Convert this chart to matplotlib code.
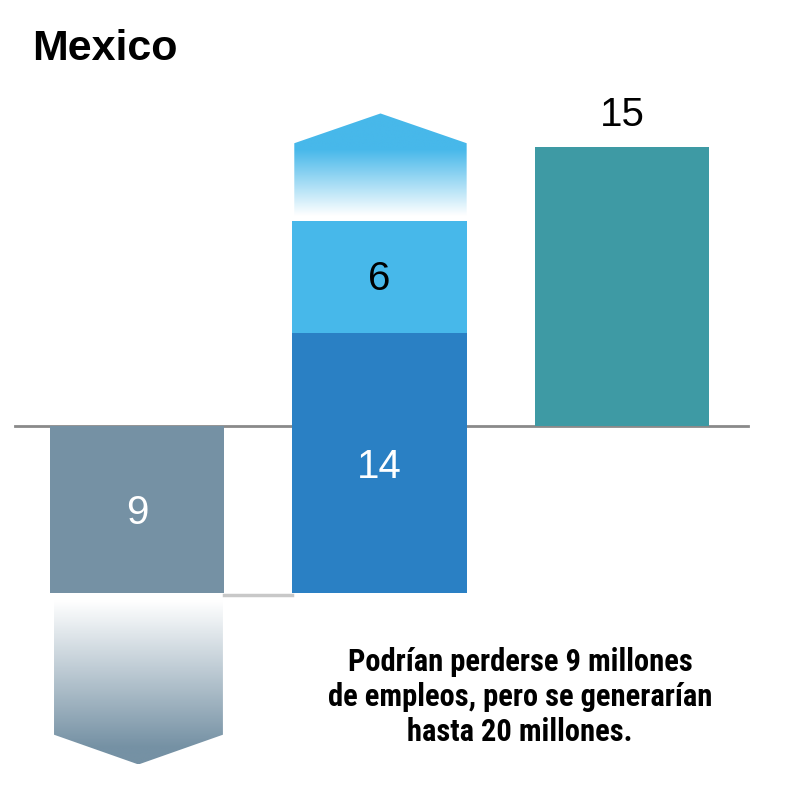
import matplotlib
matplotlib.use("Agg")
import matplotlib.pyplot as plt
import matplotlib.patches as pts
from matplotlib.colors import LinearSegmentedColormap
from matplotlib import font_manager
import numpy as np

# datos (millones de empleos)
categorias = ["perdidos", "generados", "neto"]
perdidos = 9
generados_base = 14
generados_extra = 6
neto = 15
titulo = "Mexico"
nota = "Podrían perderse 9 millones\nde empleos, pero se generarían\nhasta 20 millones."

C_GRIS = "#7591a4"
C_AZUL = "#2a80c4"
C_CELESTE = "#47b8ea"
C_VERDE = "#3e9aa4"

# fuente condensada si existe
nombres = {f.name for f in font_manager.fontManager.ttflist}
cond = "DejaVu Sans"
for n in ["Roboto Condensed", "Liberation Sans Narrow", "Open Sans Condensed", "Noto Sans Condensed"]:
    if n in nombres:
        cond = n
        break
plt.rcParams["font.family"] = ["Liberation Sans", "DejaVu Sans"]

fig = plt.figure(figsize=(8, 7.92), dpi=100)
ax = fig.add_axes([0, 0, 1, 1])
ax.set_xlim(-0.565, 2.734)
ax.set_ylim(-19.68, 22.9)
ax.axis("off")

w = 0.718
x = np.arange(len(categorias))

# linea base y conector
ax.plot([-0.503, 2.52], [0, 0], color="#8a8a8a", lw=2, zorder=1)
ax.plot([x[0] + w / 2, x[1] - w / 2], [-perdidos - 0.1, -perdidos - 0.1], color="#c8c8c8", lw=2.5, zorder=1)

# barras
ax.bar(x[0], -perdidos, width=w, color=C_GRIS, zorder=2)
ax.bar(x[1], generados_base, bottom=-perdidos, width=w, color=C_AZUL, zorder=2)
ax.bar(x[1], generados_extra, bottom=generados_base - perdidos, width=w, color=C_CELESTE, zorder=2)
ax.bar(x[2], neto, width=w, color=C_VERDE, zorder=2)


def flecha(xc, y0, y1, ypunta, color, arriba, ancho):
    # flecha con degradado de blanco a color
    xl, xr = xc - ancho / 2, xc + ancho / 2
    poly = pts.Polygon([(xl, y0), (xr, y0), (xr, y1), (xc, ypunta), (xl, y1)],
                       closed=True, facecolor="none", edgecolor="none")
    ax.add_patch(poly)
    cmap = LinearSegmentedColormap.from_list("g", ["white", color])
    grad = np.linspace(0, 1, 256).reshape(-1, 1)
    if arriba:
        grad = np.clip(grad / 0.65, 0, 1)
        ext = (xl, xr, y0, ypunta)
    else:
        grad = np.clip(grad / 0.9, 0, 1)[::-1]
        ext = (xl, xr, ypunta, y0)
    im = ax.imshow(grad, cmap=cmap, extent=ext, origin="lower", aspect="auto", zorder=2)
    im.set_clip_path(poly)


top = generados_base - perdidos + generados_extra
flecha(x[1] + 0.004, top + 0.3, top + 4.2, top + 5.8, C_CELESTE, True, w * 0.99)
flecha(x[0] + 0.006, -perdidos - 0.4, -perdidos - 7.6, -perdidos - 9.2, C_GRIS, False, w * 0.97)

# etiquetas
ax.text(x[0], -perdidos / 2 - 0.2, str(perdidos), color="white", fontsize=29, ha="center", va="center", zorder=3)
ax.text(x[1], -2.2, str(generados_base), color="white", fontsize=29, ha="center", va="center", zorder=3)
ax.text(x[1], generados_base - perdidos + generados_extra / 2 - 0.1, str(generados_extra), color="black",
        fontsize=29, ha="center", va="center", zorder=3)
ax.text(x[2], neto + 0.7, str(neto), color="black", fontsize=29, ha="center", va="bottom", zorder=3)

fig.text(0.04, 0.938, titulo, fontsize=31, fontweight="bold", ha="left", va="center")
fig.text(0.65, 0.12, nota, family=[cond, "DejaVu Sans"], fontstretch="condensed", fontweight="bold",
         fontsize=22, ha="center", va="center", linespacing=1.2, multialignment="center")

fig.savefig("out.png", dpi=100)
